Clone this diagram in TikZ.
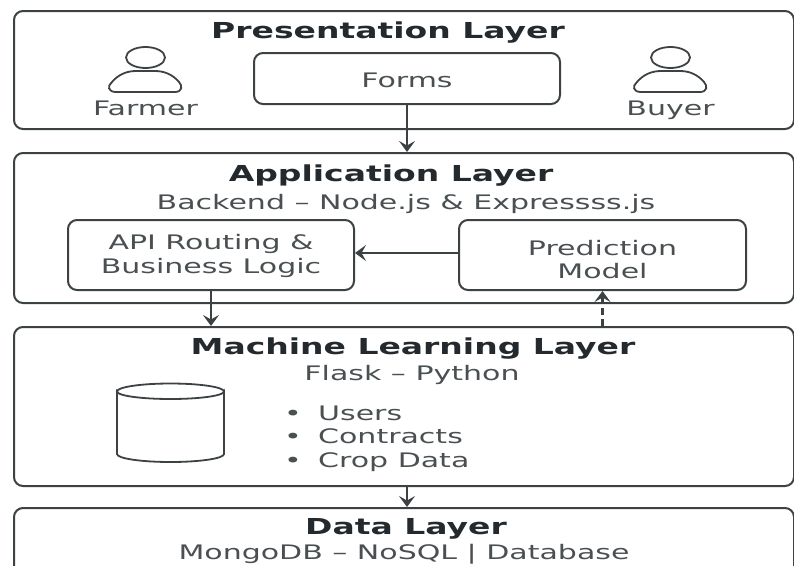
\documentclass[tikz,border=0pt]{standalone}
\usepackage{fontspec}
\setmainfont[FakeStretch=1.5]{DejaVu Sans}
\usetikzlibrary{positioning}
\usetikzlibrary{shapes.geometric}
\usetikzlibrary{arrows.meta}
\definecolor{linegray}{HTML}{3C4144}
\definecolor{titlegray}{HTML}{24292D}
\definecolor{textgray}{HTML}{4A4F52}

\begin{document}
\begin{tikzpicture}[
        x = 1pt,
        y = -1pt,
        layer/.style = {
                draw = linegray,
                line width = 2pt,
                rounded corners = 9pt,
                minimum width = 780pt,
                minimum height = #1,
                inner sep = 0pt
            },
        block/.style = {
                draw = linegray,
                line width = 2pt,
                rounded corners = 9pt,
                align = center,
                text = textgray,
                font = \fontsize{20}{23.5}\selectfont,
                inner sep = 0pt
            },
        title/.style = {
                text = titlegray,
                font = \fontsize{22}{24}\selectfont\bfseries,
                inner sep = 0pt
            },
        caption/.style = {
                text = textgray,
                font = \fontsize{20}{22}\selectfont,
                inner sep = 0pt
            },
        head/.style = {
                draw = linegray,
                ellipse,
                line width = 1.8pt,
                minimum width = 39pt,
                minimum height = 21pt,
                inner sep = 0pt
            },
        body/.style = {
                draw = linegray,
                line width = 1.8pt
            },
        flow/.style = {
                draw = linegray,
                line width = 2pt,
                -{Stealth[length = 11pt, width = 16pt, inset = 4.5pt]}
            }
    ]
    \clip (0,0) rectangle (794,565);
    \useasboundingbox (0,0) rectangle (794,565);

    \node[layer=118pt] (presentation) at (404,70) {};
    \node[layer=150pt] (application) at (404,228) {};
    \node[layer=159pt] (machine) at (404,406.5) {};
    \node[layer=120pt] (data) at (404,568) {};

    \node[title] (presentationtitle) at (388,33) {Presentation Layer};
    \node[title] (applicationtitle) at (391,176) {Application Layer};
    \node[caption] (backend) at (406,204) {Backend – Node.js \& Expressss.js};
    \node[title] (machinetitle) at (413,349) {Machine Learning Layer};
    \node[caption] (flask) at (412,375) {Flask – Python};
    \node[title] (datatitle) at (406,529) {Data Layer};
    \node[caption] (mongodb) at (404,554) {MongoDB – NoSQL | Database};

    \node[block, minimum width=306pt, minimum height=51pt] (forms) at (407,78.5) {\rule{0pt}{18pt}Forms};
    \node[block, minimum width=286pt, minimum height=70pt] (api) at (211,255) {\rule{0pt}{17pt}API Routing \&\\Business Logic};
    \node[block, minimum width=287pt, minimum height=70pt] (prediction) at (602.5,255) {\rule{0pt}{24pt}Prediction\\Model};

    \node[head] (farmerhead) at (145.5,57.5) {};
    \node[caption, below=32pt of farmerhead] (farmer) {Farmer};
    \draw[body] (116,92) .. controls (108,92) and (107,86) .. (112,82) .. controls (118,75) and (126,71) .. (136,71) -- (155,71) .. controls (165,71) and (173,75) .. (179,82) .. controls (183,86) and (182,92) .. (175,92) -- cycle;

    \node[head] (buyerhead) at (670.5,57.5) {};
    \node[caption, below=32pt of buyerhead] (buyer) {Buyer};
    \draw[body] (641,92) .. controls (633,92) and (632,86) .. (637,82) .. controls (643,75) and (651,71) .. (661,71) -- (680,71) .. controls (690,71) and (698,75) .. (704,82) .. controls (708,86) and (707,92) .. (700,92) -- cycle;

    \draw[body] (117,391.5) arc[start angle=180, end angle=0, x radius=53.5pt, y radius=-7.5pt] -- (224,454) arc[start angle=0, end angle=180, x radius=53.5pt, y radius=-8pt] -- cycle;
    \draw[body] (117,391.5) arc[start angle=180, end angle=360, x radius=53.5pt, y radius=-8pt];

    \node[caption, align=left, anchor=west, font=\fontsize{20}{23.5}\selectfont] (records) at (284,438.5) {%
        \makebox[34pt][l]{•}Users\\
        \makebox[34pt][l]{•}Contracts\\
        \makebox[34pt][l]{•}Crop Data};

    \draw[flow] (forms.south) -- (forms.south |- application.north);
    \draw[flow] (prediction.west |- 0,253) -- (api.east |- 0,253);
    \draw[flow] (api.south) -- (api.south |- machine.north);
    \draw[flow, line width=2.4pt, dash pattern=on 7pt off 4pt] (prediction.south |- machine.north) -- (prediction.south);
    \draw[flow] (machine.south -| forms.south) -- (data.north -| forms.south);
\end{tikzpicture}
\end{document}
